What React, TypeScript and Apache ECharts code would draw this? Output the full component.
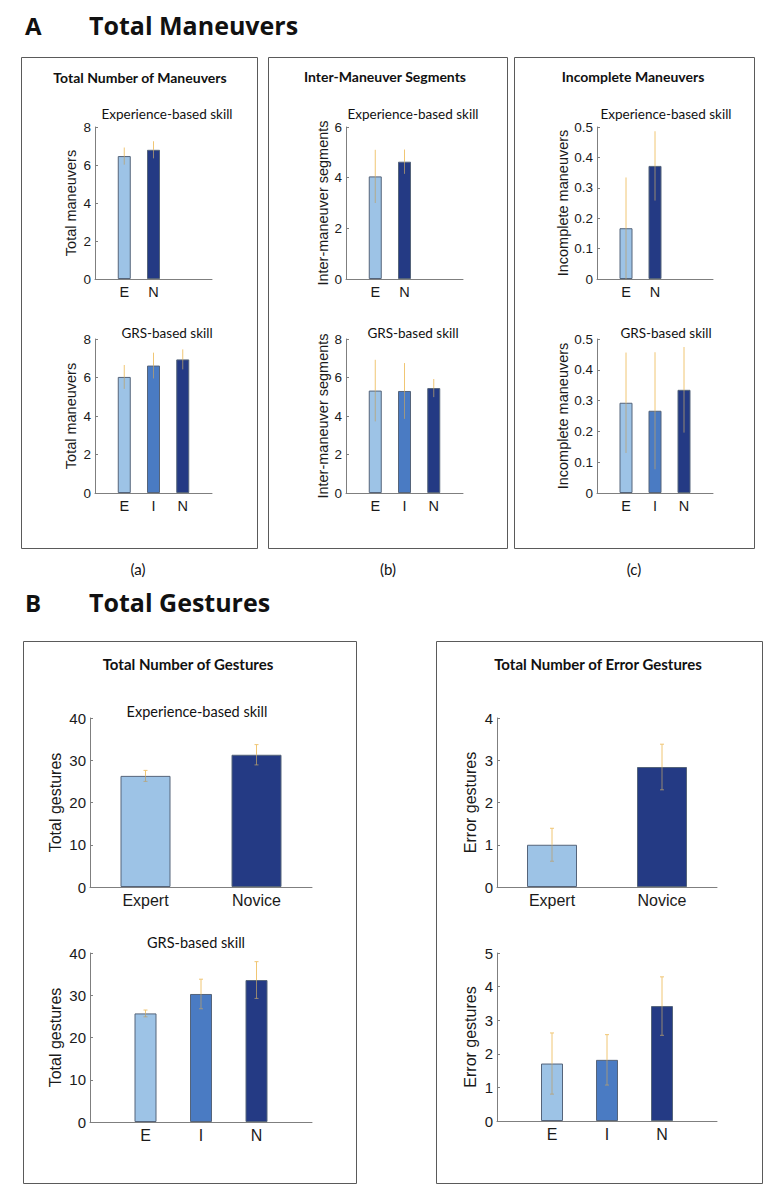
import React, { useEffect, useRef } from 'react';
import * as echarts from 'echarts';

// ---------- data ----------
const expCategories = ['E', 'N'];
const grsCategories = ['E', 'I', 'N'];
const expWordCategories = ['Expert', 'Novice'];

const manExpMean = [6.47, 6.8];
const manExpErr = [0.45, 0.45];
const manGrsMean = [6.03, 6.62, 6.94];
const manGrsErr = [0.62, 0.67, 0.52];

const segExpMean = [4.05, 4.63];
const segExpErr = [1.05, 0.48];
const segGrsMean = [5.32, 5.3, 5.45];
const segGrsErr = [1.6, 1.45, 0.47];

const incExpMean = [0.167, 0.372];
const incExpErr = [0.167, 0.114];
const incGrsMean = [0.293, 0.267, 0.335];
const incGrsErr = [0.163, 0.19, 0.139];

const gesExpMean = [26.3, 31.3];
const gesExpErr = [1.3, 2.4];
const gesGrsMean = [25.7, 30.3, 33.6];
const gesGrsErr = [0.8, 3.5, 4.35];

const errExpMean = [1.0, 2.84];
const errExpErr = [0.39, 0.54];
const errGrsMean = [1.71, 1.82, 3.42];
const errGrsErr = [0.91, 0.75, 0.87];

// y-axis ranges: [max, interval]
const manExpAxis = [8, 2];
const manGrsAxis = [8, 2];
const segExpAxis = [6, 2];
const segGrsAxis = [8, 2];
const incExpAxis = [0.5, 0.1];
const incGrsAxis = [0.5, 0.1];
const gesExpAxis = [40, 10];
const gesGrsAxis = [40, 10];
const errExpAxis = [4, 1];
const errGrsAxis = [5, 1];

// ---------- styles ----------
const LIGHT = '#9dc3e6';
const MID = '#4a7bc3';
const DARK = '#243a84';
const EXP_COLORS = [LIGHT, DARK];
const GRS_COLORS = [LIGHT, MID, DARK];
const AXIS_GRAY = '#7f7f7f';
const TXT = '#1a1a1a';
const ARIAL = 'Liberation Sans, Arial, sans-serif';
const TITLE_FONT = 'Lato, Open Sans, sans-serif';

type PanelCfg = {
  rect: number[];
  cats: string[];
  padded: boolean;
  means: number[];
  errs: number[];
  colors: string[];
  axis: number[];
  name: string;
  nameGap: number;
  tickFont: number;
  nameFont: number;
  catFont: number;
  barWidth: number;
  caps: boolean;
};

const panels: PanelCfg[] = [
  { rect: [95, 127, 117, 152], cats: expCategories, padded: true, means: manExpMean, errs: manExpErr, colors: EXP_COLORS, axis: manExpAxis, name: 'Total maneuvers', nameGap: 17, tickFont: 13.5, nameFont: 14.5, catFont: 14.5, barWidth: 13, caps: false },
  { rect: [95, 339, 117, 154], cats: grsCategories, padded: true, means: manGrsMean, errs: manGrsErr, colors: GRS_COLORS, axis: manGrsAxis, name: 'Total maneuvers', nameGap: 17, tickFont: 13.5, nameFont: 14.5, catFont: 14.5, barWidth: 13, caps: false },
  { rect: [346, 127, 117, 152], cats: expCategories, padded: true, means: segExpMean, errs: segExpErr, colors: EXP_COLORS, axis: segExpAxis, name: 'Inter-maneuver segments', nameGap: 12, tickFont: 13.5, nameFont: 14.5, catFont: 14.5, barWidth: 13, caps: false },
  { rect: [346, 339, 117, 154], cats: grsCategories, padded: true, means: segGrsMean, errs: segGrsErr, colors: GRS_COLORS, axis: segGrsAxis, name: 'Inter-maneuver segments', nameGap: 12, tickFont: 13.5, nameFont: 14.5, catFont: 14.5, barWidth: 13, caps: false },
  { rect: [597, 127, 116, 152], cats: expCategories, padded: true, means: incExpMean, errs: incExpErr, colors: EXP_COLORS, axis: incExpAxis, name: 'Incomplete maneuvers', nameGap: 27, tickFont: 13.5, nameFont: 14.5, catFont: 14.5, barWidth: 13, caps: false },
  { rect: [597, 339, 116, 154], cats: grsCategories, padded: true, means: incGrsMean, errs: incGrsErr, colors: GRS_COLORS, axis: incGrsAxis, name: 'Incomplete maneuvers', nameGap: 27, tickFont: 13.5, nameFont: 14.5, catFont: 14.5, barWidth: 13, caps: false },
  { rect: [90, 718, 222, 169], cats: expWordCategories, padded: false, means: gesExpMean, errs: gesExpErr, colors: EXP_COLORS, axis: gesExpAxis, name: 'Total gestures', nameGap: 27, tickFont: 15, nameFont: 16, catFont: 16, barWidth: 50, caps: true },
  { rect: [90, 953, 222, 169], cats: grsCategories, padded: true, means: gesGrsMean, errs: gesGrsErr, colors: GRS_COLORS, axis: gesGrsAxis, name: 'Total gestures', nameGap: 27, tickFont: 15, nameFont: 16, catFont: 16, barWidth: 22, caps: true },
  { rect: [497, 718, 220, 169], cats: expWordCategories, padded: false, means: errExpMean, errs: errExpErr, colors: EXP_COLORS, axis: errExpAxis, name: 'Error gestures', nameGap: 19, tickFont: 15, nameFont: 16, catFont: 16, barWidth: 50, caps: true },
  { rect: [497, 953, 220, 168], cats: grsCategories, padded: true, means: errGrsMean, errs: errGrsErr, colors: GRS_COLORS, axis: errGrsAxis, name: 'Error gestures', nameGap: 19, tickFont: 15, nameFont: 16, catFont: 16, barWidth: 22, caps: true },
];

function buildOption() {
  const grid: any[] = [];
  const xAxis: any[] = [];
  const yAxis: any[] = [];
  const series: any[] = [];

  panels.forEach((p, i) => {
    const [l, t, w, h] = p.rect;
    grid.push({ left: l, top: t, width: w, height: h, containLabel: false });
    const off = p.padded ? 1 : 0;
    const axisCats = p.padded
      ? ['', ...p.cats, ...new Array(4 - p.cats.length).fill('')]
      : p.cats;
    xAxis.push({
      gridIndex: i,
      type: 'category',
      data: axisCats,
      boundaryGap: !p.padded,
      axisLine: { show: true, lineStyle: { color: AXIS_GRAY, width: 1 } },
      axisTick: { show: false },
      axisLabel: { interval: 0, color: TXT, fontFamily: ARIAL, fontSize: p.catFont, margin: 5 },
      splitLine: { show: false },
    });
    yAxis.push({
      gridIndex: i,
      type: 'value',
      min: 0,
      max: p.axis[0],
      interval: p.axis[1],
      name: p.name,
      nameLocation: 'middle',
      nameGap: p.nameGap,
      nameTextStyle: { fontFamily: ARIAL, fontSize: p.nameFont, color: TXT },
      axisLine: { show: true, lineStyle: { color: AXIS_GRAY, width: 1 } },
      axisTick: { show: true, inside: true, length: 3, lineStyle: { color: AXIS_GRAY } },
      axisLabel: { color: TXT, fontFamily: ARIAL, fontSize: p.tickFont, margin: 4 },
      splitLine: { show: false },
    });
    const barData: any[] = axisCats.map(() => '-');
    p.means.forEach((m, k) => {
      barData[k + off] = { value: m, itemStyle: { color: p.colors[k] } };
    });
    series.push({
      type: 'bar',
      xAxisIndex: i,
      yAxisIndex: i,
      barWidth: p.barWidth,
      data: barData,
      itemStyle: { borderColor: '#55647a', borderWidth: 1 },
      silent: true,
    });
    const caps = p.caps;
    series.push({
      type: 'custom',
      xAxisIndex: i,
      yAxisIndex: i,
      z: 10,
      silent: true,
      data: p.means.map((m, k) => [k + off, Math.max(0, m - p.errs[k]), m, m + p.errs[k]]),
      encode: { x: 0, y: [1, 3] },
      renderItem: (params: any, api: any) => {
        const x = api.value(0);
        const lo = api.coord([x, api.value(1)]);
        const mid = api.coord([x, api.value(2)]);
        const hi = api.coord([x, api.value(3)]);
        const children: any[] = [
          { type: 'line', shape: { x1: mid[0], y1: mid[1], x2: hi[0], y2: hi[1] }, style: { stroke: '#f0c674', lineWidth: 1 } },
          { type: 'line', shape: { x1: lo[0], y1: lo[1], x2: mid[0], y2: mid[1] }, style: { stroke: 'rgba(185,160,110,0.75)', lineWidth: 1 } },
        ];
        if (caps) {
          children.push({ type: 'line', shape: { x1: hi[0] - 2, y1: hi[1], x2: hi[0] + 2, y2: hi[1] }, style: { stroke: '#f0c674', lineWidth: 1 } });
          children.push({ type: 'line', shape: { x1: lo[0] - 2, y1: lo[1], x2: lo[0] + 2, y2: lo[1] }, style: { stroke: 'rgba(185,160,110,0.75)', lineWidth: 1 } });
        }
        return { type: 'group', children };
      },
    });
  });

  const box = (x: number, y: number, w: number, h: number) => ({
    type: 'rect',
    shape: { x, y, width: w, height: h },
    style: { fill: 'none', stroke: '#5a5a5a', lineWidth: 1 },
    silent: true,
  });
  const txt = (x: number, y: number, text: string, size: number, weight: string, family: string, align = 'center') => ({
    type: 'text',
    x,
    y,
    silent: true,
    style: { text, fontSize: size, fontWeight: weight, fontFamily: family, fill: '#111', align, verticalAlign: 'middle' },
  });

  const graphic: any[] = [
    box(21.5, 57.5, 236, 491),
    box(268.5, 57.5, 239, 491),
    box(514.5, 57.5, 240, 491),
    box(23.5, 641.5, 333, 542),
    box(436.5, 641.5, 326, 542),
    txt(25, 25, 'A', 24, 'bold', 'Open Sans, sans-serif', 'left'),
    txt(89, 25, 'Total Maneuvers', 25, 'bold', 'Open Sans, sans-serif', 'left'),
    txt(25, 602, 'B', 24, 'bold', 'Open Sans, sans-serif', 'left'),
    txt(89, 602, 'Total Gestures', 25, 'bold', 'Open Sans, sans-serif', 'left'),
    txt(140, 77, 'Total Number of Maneuvers', 14, 'bold', TITLE_FONT),
    txt(385, 76, 'Inter-Maneuver Segments', 14, 'bold', TITLE_FONT),
    txt(633, 76, 'Incomplete Maneuvers', 14, 'bold', TITLE_FONT),
    txt(167, 114, 'Experience-based skill', 13.5, 'normal', TITLE_FONT),
    txt(413, 114, 'Experience-based skill', 13.5, 'normal', TITLE_FONT),
    txt(666, 114, 'Experience-based skill', 13.5, 'normal', TITLE_FONT),
    txt(167, 333, 'GRS-based skill', 13.5, 'normal', TITLE_FONT),
    txt(413, 333, 'GRS-based skill', 13.5, 'normal', TITLE_FONT),
    txt(666, 333, 'GRS-based skill', 13.5, 'normal', TITLE_FONT),
    txt(138, 569, '(a)', 15, 'normal', TITLE_FONT),
    txt(388, 569, '(b)', 15, 'normal', TITLE_FONT),
    txt(634, 569, '(c)', 15, 'normal', TITLE_FONT),
    txt(188, 664, 'Total Number of Gestures', 15, 'bold', TITLE_FONT),
    txt(598, 664, 'Total Number of Error Gestures', 15, 'bold', TITLE_FONT),
    txt(197, 711, 'Experience-based skill', 14.5, 'normal', TITLE_FONT),
    txt(196, 942, 'GRS-based skill', 14.5, 'normal', TITLE_FONT),
  ];

  return {
    animation: false,
    backgroundColor: '#ffffff',
    grid,
    xAxis,
    yAxis,
    series,
    graphic,
  };
}

export default function App() {
  const ref = useRef<HTMLDivElement>(null);
  useEffect(() => {
    if (!ref.current) return;
    const chart = echarts.init(ref.current, undefined, { renderer: 'svg' });
    chart.setOption(buildOption() as any);
    return () => chart.dispose();
  }, []);
  return (
    <div
      ref={ref}
      style={{ position: 'absolute', left: 0, top: 0, width: 780, height: 1200, background: '#fff' }}
    />
  );
}
